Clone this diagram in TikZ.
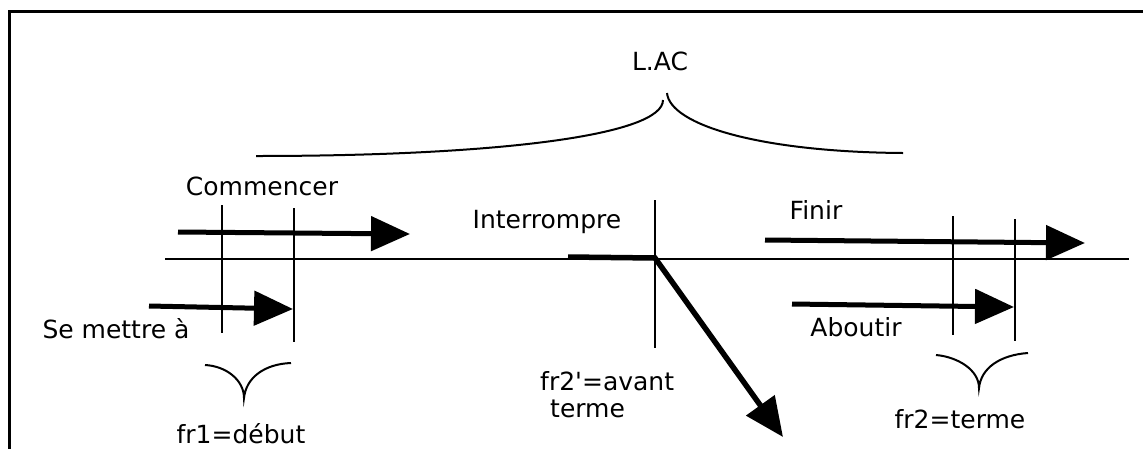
\documentclass[tikz,border=0pt]{standalone}
\usepackage{fontspec}
\setmainfont{DejaVu Sans}[Ligatures=TeXOff]
\usetikzlibrary{arrows.meta}
\tikzset{
  thinline/.style={line width=2pt},
  shaft/.style={line width=5pt, -{Triangle[length=39pt,width=34pt]}},
  lbl/.style={inner sep=0pt, anchor=base, font=\fontsize{25}{30}\selectfont},
  framestyle/.style={line width=3pt},
  bracestyle/.style={line width=2pt},
}
\begin{document}
\begin{tikzpicture}[x=1pt,y=-1pt]
\useasboundingbox (0,0) rectangle (1143,448);
\clip (0,0) rectangle (1143,448);
% frame
\coordinate (fBL) at (9.5,470);
\coordinate (fTL) at (9.5,11.5);
\coordinate (fTR) at (1160,11.5);
\draw[framestyle] (fBL) -- (fTL) -- (fTR);
% main time line
\coordinate (mL) at (165,259);
\coordinate (mR) at (1129,259);
\draw[thinline] (mL) -- (mR);
% vertical markers
\coordinate (v1t) at (222,205); \coordinate (v1b) at (222,333);
\coordinate (v2t) at (294,208); \coordinate (v2b) at (294,342);
\coordinate (v3t) at (655,200); \coordinate (v3b) at (655,348);
\coordinate (v4t) at (953,216); \coordinate (v4b) at (953,335);
\coordinate (v5t) at (1015,219); \coordinate (v5b) at (1015,341);
\foreach \v in {1,...,5}{\draw[thinline] (v\v t) -- (v\v b);}
% arrows
\coordinate (cS) at (178,232); \coordinate (cE) at (410,234);
\draw[shaft] (cS) -- (cE);
\coordinate (sS) at (149,306); \coordinate (sE) at (293,309);
\draw[shaft] (sS) -- (sE);
\coordinate (fS) at (765,240); \coordinate (fE) at (1085,243);
\draw[shaft] (fS) -- (fE);
\coordinate (aS) at (792,304); \coordinate (aE) at (1014,307);
\draw[shaft] (aS) -- (aE);
\coordinate (iS) at (568,257); \coordinate (iM) at (655,258); \coordinate (iE) at (783,437);
\draw[shaft, line width=5.5pt, line join=miter] (iS) -- (iM) -- (iE);
% braces
\coordinate (lacL) at (256,156); \coordinate (lacC1) at (663,100);
\coordinate (lacC2) at (667,93); \coordinate (lacR) at (903,153);
\draw[bracestyle] (lacL) .. controls (500,156) and (663,135) .. (lacC1);
\draw[bracestyle] (lacC2) .. controls (670,125) and (760,152) .. (lacR);
\coordinate (b1L) at (205,365); \coordinate (b1C) at (244,398); \coordinate (b1R) at (291,363);
\draw[bracestyle] (b1L) .. controls (226,366) and (244,380) .. (b1C)
  .. controls (246,378) and (264,364) .. (b1R);
\coordinate (b2L) at (936,355); \coordinate (b2C) at (979,388); \coordinate (b2R) at (1028,353);
\draw[bracestyle] (b2L) .. controls (958,357) and (979,370) .. (b2C)
  .. controls (981,368) and (1000,355) .. (b2R);
% labels
\node[lbl] (lac) at (660,70) {L.AC};
\node[lbl] (comm) at (262,195) {Commencer};
\node[lbl] (inter) at (547,228) {Interrompre};
\node[lbl] (finir) at (816,219) {Finir};
\node[lbl] (smt) at (116,338) {Se mettre à};
\node[lbl] (abou) at (856,336) {Aboutir};
\node[lbl] (fr2t) at (960,428) {fr2=terme};
\node[lbl] (fr1) at (241,443) {fr1=début};
\node[lbl, anchor=base west] (fr2a) at (540,390) {fr2'=avant};
\node[lbl, anchor=base west] (terme) at (550,417) {terme};
\end{tikzpicture}
\end{document}
